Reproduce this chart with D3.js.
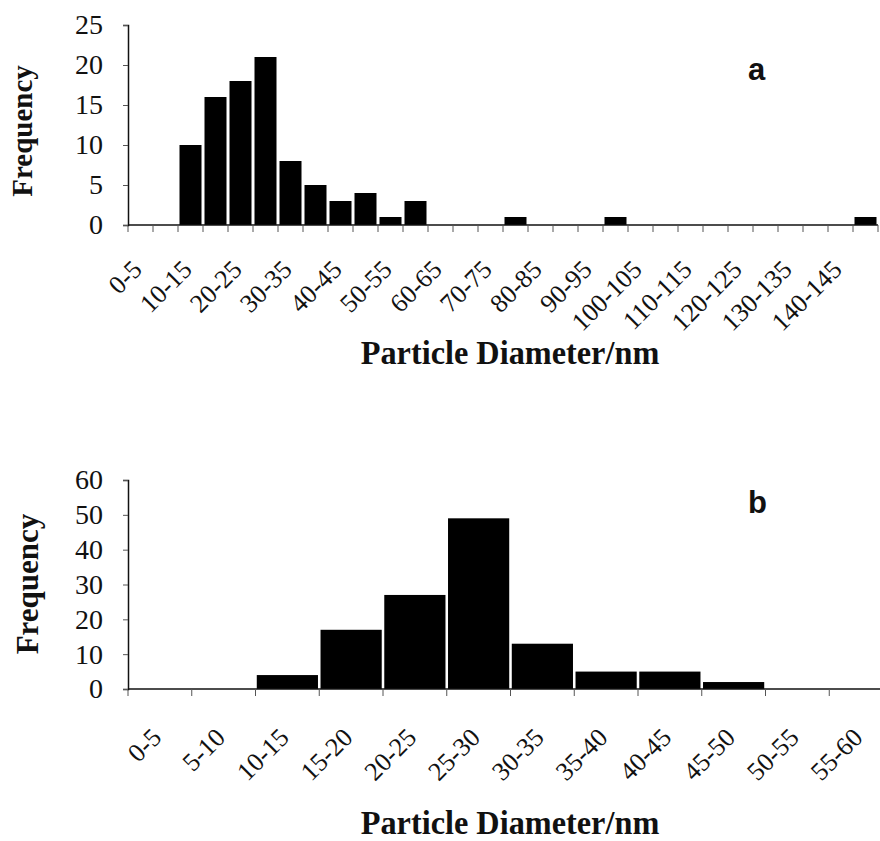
<!DOCTYPE html>
<html>
<head>
<meta charset="utf-8">
<script src="https://cdn.jsdelivr.net/npm/d3@7"></script>
<style>
  body { margin: 0; background: #fff; }
  svg { display: block; }
  text { font-family: "Liberation Serif", "Times New Roman", serif; fill: #111; }
  text.letter { font-family: "Liberation Sans", Arial, sans-serif; }
</style>
</head>
<body>
<div id="chart"></div>
<script>
// panel a: bins of 5 nm from 0 to 150
var topBins = ["0-5", "5-10", "10-15", "15-20", "20-25", "25-30", "30-35", "35-40", "40-45", "45-50",
  "50-55", "55-60", "60-65", "65-70", "70-75", "75-80", "80-85", "85-90", "90-95", "95-100",
  "100-105", "105-110", "110-115", "115-120", "120-125", "125-130", "130-135", "135-140", "140-145", "145-150"];
var topCounts = [0, 0, 10, 16, 18, 21, 8, 5, 3, 4, 1, 3, 0, 0, 0, 1, 0, 0, 0, 1, 0, 0, 0, 0, 0, 0, 0, 0, 0, 1];
var topTickLabels = ["0-5", "10-15", "20-25", "30-35", "40-45", "50-55", "60-65", "70-75", "80-85",
  "90-95", "100-105", "110-115", "120-125", "130-135", "140-145"];
var topYTicks = [0, 5, 10, 15, 20, 25];

// panel b: bins of 5 nm from 0 to 60
var botBins = ["0-5", "5-10", "10-15", "15-20", "20-25", "25-30", "30-35", "35-40", "40-45", "45-50", "50-55", "55-60"];
var botCounts = [0, 0, 4, 17, 27, 49, 13, 5, 5, 2, 0, 0];
var botTickLabels = botBins;
var botYTicks = [0, 10, 20, 30, 40, 50, 60];

var svgWidth = 880;
var svgHeight = 841;

var svg = d3.select("#chart")
  .append("svg")
  .attr("width", svgWidth)
  .attr("height", svgHeight);

svg.append("rect")
  .attr("width", svgWidth)
  .attr("height", svgHeight)
  .attr("fill", "#fff");

function drawPanel(opts) {
  var g = svg.append("g");

  var x = d3.scaleBand()
    .domain(opts.bins)
    .range([opts.left, opts.right]);

  var y = d3.scaleLinear()
    .domain([0, opts.yMax])
    .range([opts.bottom, opts.top]);

  var bw = x.bandwidth();

  // bars
  g.selectAll("rect.bar")
    .data(opts.bins)
    .enter()
    .append("rect")
    .attr("class", "bar")
    .attr("x", d => x(d) + bw * opts.pad / 2)
    .attr("width", bw * (1 - opts.pad))
    .attr("y", (d, i) => y(opts.counts[i]))
    .attr("height", (d, i) => opts.bottom - y(opts.counts[i]))
    .attr("fill", "#000");

  // x axis line and boundary ticks
  var edges = opts.bins.map(d => x(d)).concat([opts.right]);
  g.append("line")
    .attr("x1", opts.left).attr("x2", opts.right)
    .attr("y1", opts.bottom).attr("y2", opts.bottom)
    .attr("stroke", "#111").attr("stroke-width", 1.5);
  g.selectAll("line.xt")
    .data(edges)
    .enter()
    .append("line")
    .attr("class", "xt")
    .attr("x1", d => d).attr("x2", d => d)
    .attr("y1", opts.bottom).attr("y2", opts.bottom + 7)
    .attr("stroke", "#555").attr("stroke-width", 1);

  // rotated category labels, end of text just under the bin centre
  g.selectAll("text.xl")
    .data(opts.tickLabels)
    .enter()
    .append("text")
    .attr("class", "xl")
    .attr("text-anchor", "end")
    .attr("font-size", opts.xFont)
    .attr("transform", d => {
      var cx = x(d) + bw / 2 + opts.lx;
      var cy = opts.bottom + opts.ly;
      return `translate(${cx},${cy}) rotate(-45)`;
    })
    .text(d => d);

  // y axis
  var yAxis = d3.axisLeft(y)
    .tickValues(opts.yTicks)
    .tickSize(5)
    .tickPadding(20);
  var ya = g.append("g")
    .attr("transform", `translate(${opts.left},0)`)
    .call(yAxis);
  ya.select(".domain").attr("stroke", "#111").attr("stroke-width", 1.5);
  ya.selectAll(".tick line").attr("stroke", "#555");
  ya.selectAll(".tick text")
    .attr("font-size", 28)
    .attr("fill", "#111");

  // axis titles
  g.append("text")
    .attr("transform", `translate(${opts.fx},${opts.fy}) rotate(-90)`)
    .attr("text-anchor", "middle")
    .attr("font-size", opts.fFont)
    .attr("font-weight", "bold")
    .text("Frequency");

  g.append("text")
    .attr("transform", `translate(510,${opts.titleY}) scale(0.95,1)`)
    .attr("text-anchor", "middle")
    .attr("font-size", 34)
    .attr("font-weight", "bold")
    .text("Particle Diameter/nm");

  // panel letter
  g.append("text")
    .attr("class", "letter")
    .attr("x", 748)
    .attr("y", opts.letterY)
    .attr("font-size", 31)
    .attr("font-weight", "bold")
    .text(opts.letter);
}

drawPanel({
  bins: topBins, counts: topCounts, tickLabels: topTickLabels, yTicks: topYTicks, yMax: 25,
  left: 128, right: 878, top: 25, bottom: 225, pad: 0.12,
  xFont: 26, lx: 3, ly: 46,
  fx: 32, fy: 131, fFont: 29,
  titleY: 364, letter: "a", letterY: 80
});

drawPanel({
  bins: botBins, counts: botCounts, tickLabels: botTickLabels, yTicks: botYTicks, yMax: 60,
  left: 128, right: 893, top: 480, bottom: 689, pad: 0.04,
  xFont: 26, lx: 3, ly: 50,
  fx: 38, fy: 584, fFont: 31,
  titleY: 834, letter: "b", letterY: 513
});
</script>
</body>
</html>
